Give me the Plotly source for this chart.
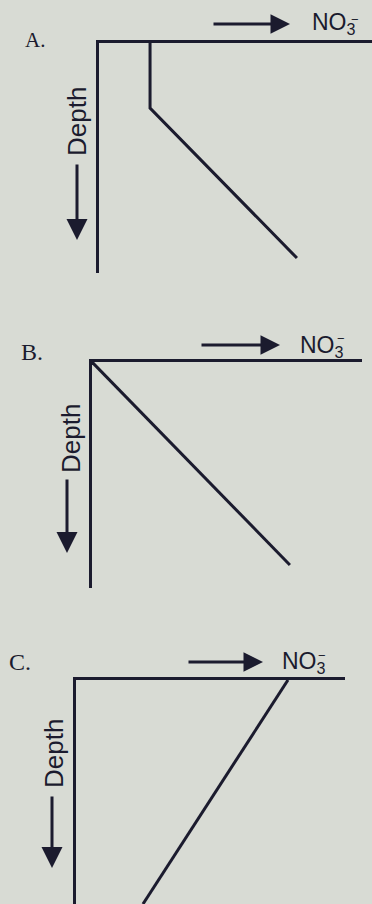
import plotly.graph_objects as go

W, H = 372, 904

# ---- data (arbitrary units: nitrate 0-100 across, depth 0-100 down) ----
panel_labels = ["A.", "B.", "C."]
a_nitrate = [18.7, 18.7, 72.5]
a_depth = [0.0, 28.3, 93.5]
b_nitrate = [0.0, 73.3]
b_depth = [0.0, 89.8]
c_nitrate = [78.8, 24.9]
c_depth = [0.0, 100.0]
x_label = "NO<sub>3</sub>"
x_label_charge = "−"
y_label = "Depth"

INK = "#1b1b2e"
BG = "#d8dbd4"

def px(x):
    return x / W

def py(y):
    return (H - y) / H

# panel geometry in pixels: (left, right, top, bottom)
panels = [(99, 372, 43, 273), (92, 362, 362, 588), (76, 345, 680, 904)]
series = [(a_nitrate, a_depth), (b_nitrate, b_depth), (c_nitrate, c_depth)]

fig = go.Figure()
layout = dict(
    width=W, height=H, margin=dict(l=0, r=0, t=0, b=0),
    paper_bgcolor=BG, plot_bgcolor=BG, showlegend=False,
)
for i, ((l, r, t, b), (xs, ys)) in enumerate(zip(panels, series), start=1):
    sfx = "" if i == 1 else str(i)
    fig.add_trace(go.Scatter(
        x=xs, y=ys, mode="lines", xaxis="x" + sfx, yaxis="y" + sfx,
        line=dict(color=INK, width=3), hoverinfo="skip",
    ))
    layout["xaxis" + sfx] = dict(
        domain=[px(l), px(r)], anchor="y" + sfx, side="top", range=[0, 100],
        showline=True, linecolor=INK, linewidth=3, showgrid=False,
        zeroline=False, showticklabels=False, ticks="", fixedrange=True,
    )
    layout["yaxis" + sfx] = dict(
        domain=[py(b), py(t)], anchor="x" + sfx, range=[100, 0],
        showline=True, linecolor=INK, linewidth=3, showgrid=False,
        zeroline=False, showticklabels=False, ticks="", fixedrange=True,
    )
fig.update_layout(**layout)

# ---- annotations ----
letter_pos = [(35, 40, 21), (32, 352, 24), (20, 662, 24)]
no_pos = [(310, 23), (298, 346), (280, 662)]
charge_pos = [(355, 19), (341, 338), (322, 655)]
harrow = [(212, 290, 24), (200, 280, 345), (187, 263, 662)]
depth_txt = [(77, 122), (71, 439), (54, 754)]
varrow = [(77, 163, 240), (67, 478, 553), (52, 795, 868)]

anns = []
for k in range(3):
    lx, ly, ls = letter_pos[k]
    anns.append(dict(x=px(lx), y=py(ly), xref="paper", yref="paper",
                     xanchor="center", yanchor="middle",
                     text=panel_labels[k], showarrow=False,
                     font=dict(family="Liberation Serif", size=ls, color=INK)))
    nx, ny = no_pos[k]
    anns.append(dict(x=px(nx), y=py(ny), xref="paper", yref="paper",
                     xanchor="left", yanchor="middle", text=x_label,
                     showarrow=False,
                     font=dict(family="Liberation Sans", size=23, color=INK)))
    cx, cy = charge_pos[k]
    anns.append(dict(x=px(cx), y=py(cy), xref="paper", yref="paper",
                     xanchor="center", yanchor="middle",
                     text=x_label_charge, showarrow=False,
                     font=dict(family="Liberation Sans", size=13, color=INK)))
    x0, x1, hy = harrow[k]
    anns.append(dict(x=px(x1), y=py(hy), xref="paper", yref="paper",
                     ax=x0 - x1, ay=0, text="", showarrow=True,
                     arrowhead=2, arrowsize=1.3, arrowwidth=3, arrowcolor=INK))
    dx, dy = depth_txt[k]
    anns.append(dict(x=px(dx), y=py(dy), xref="paper", yref="paper",
                     xanchor="center", yanchor="middle",
                     text=y_label, textangle=-90, showarrow=False,
                     font=dict(family="Liberation Sans", size=26, color=INK)))
    vx, v0, v1 = varrow[k]
    anns.append(dict(x=px(vx), y=py(v1), xref="paper", yref="paper",
                     ax=0, ay=v0 - v1, text="", showarrow=True,
                     arrowhead=2, arrowsize=1.4, arrowwidth=3, arrowcolor=INK))
fig.update_layout(annotations=anns)

fig.write_html("out.html", config={"displayModeBar": False},
               post_script="document.body.style.margin='0';")
